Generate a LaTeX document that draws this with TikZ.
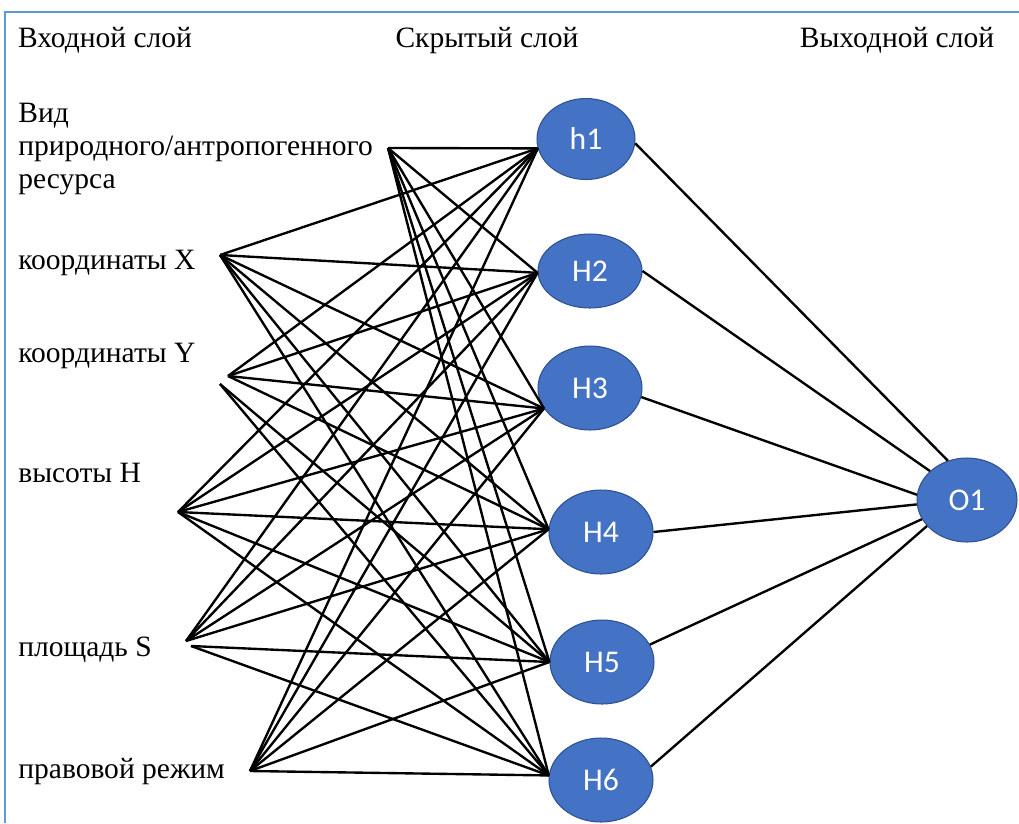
\documentclass[tikz,border=0pt]{standalone}
\usepackage{fontspec}
\setmainfont{Liberation Serif}
\newfontfamily\neuronfont{Carlito}
\usetikzlibrary{shapes.geometric}

\definecolor{neuronfill}{RGB}{68,114,196}
\definecolor{neuronedge}{RGB}{47,82,143}
\definecolor{framecolor}{RGB}{91,155,213}

\tikzset{%
  every neuron/.style={
    ellipse,
    draw=neuronedge,
    line width=0.6pt,
    fill=neuronfill,
    text=white,
    font=\neuronfont\fontsize{18}{20}\selectfont,
    minimum width=2.08cm,
    minimum height=1.68cm
  },
  neuron 1/.style={minimum width=1.96cm, minimum height=1.62cm},
  neuron 2/.style={minimum height=1.48cm},
  layer label/.style={
    inner sep=0pt,
    font=\fontsize{16.8}{18.6}\selectfont
  },
  link/.style={line width=1.35pt},
}

\begin{document}
\begin{tikzpicture}[x=0.02cm, y=-0.02cm]

\useasboundingbox (0,0) rectangle (1019,823);
\draw [framecolor, line width=0.8pt] (5,823) -- (5,12) -- (1019,12);

\foreach \l/\x [count=\i] in {Входной слой/105, Скрытый слой/487, Выходной слой/897}
  \node [layer label, anchor=base] (layer-\i) at (\x,47) {\l};

% input names, each with the point its links start from
\node [layer label, anchor=west, align=left] (name-1) at (18,149)
  {Вид\\природного/антропогенного\\ресурса};
\foreach \l/\y [count=\i from 2] in {координаты X/269, координаты Y/362,
    высоты H/482, площадь S/656, правовой режим/778}
  \node [layer label, anchor=base west] (name-\i) at (18,\y) {\l};

\coordinate (input-1) at (388,148);
\coordinate (input-2) at (220,255);
\coordinate (input-3) at (228,376);
\coordinate (input-3b) at (220,384);
\coordinate (input-4) at (178,512);
\coordinate (input-5) at (186,641);
\coordinate (input-5b) at (191,646);
\coordinate (input-6) at (250,771);

\foreach \m/\l/\x/\y in {1/h1/586/139, 2/H2/590/271, 3/H3/590/388,
    4/H4/601/532, 5/H5/602/662, 6/H6/601/780}
  \node [every neuron/.try, neuron \m/.try] (hidden-\m) at (\x,\y) {\l};

\node [every neuron/.try, minimum width=2.0cm] (output-1) at (967,500) {O1};

\foreach \j/\a in {1/191,2/182,3/204,4/177,5/180,6/175}
  \foreach \i in {1,2,4,6}
    \draw [link] (input-\i) -- (hidden-\j.\a);

\foreach \j/\a in {1/191,2/182,3/204,4/177}
  \draw [link] (input-3) -- (hidden-\j.\a) (input-5) -- (hidden-\j.\a);

\foreach \j/\a in {5/180,6/175}
  \draw [link] (input-3b) -- (hidden-\j.\a) (input-5b) -- (hidden-\j.\a);

\foreach \i/\s/\e in {1/355/116, 2/0/142, 3/350/174, 4/0/185, 5/20/203, 6/15/213}
  \draw [link] (hidden-\i.\s) -- (output-1.\e);

\end{tikzpicture}
\end{document}
